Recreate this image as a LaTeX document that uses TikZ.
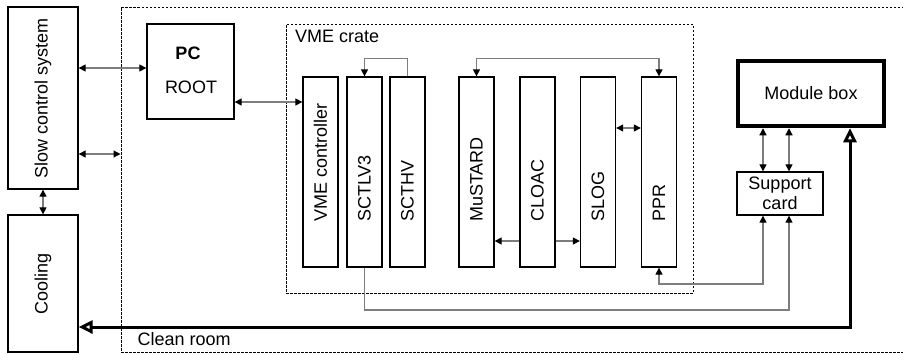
\documentclass[tikz,border=0pt]{standalone}
\usepackage{fontspec}
\setmainfont{Liberation Sans}
\usepackage{tikz}
\usetikzlibrary{positioning,arrows.meta,calc}
\definecolor{LinkGrey}{RGB}{125,125,125}

\begin{document}
\begin{tikzpicture}[
    x=1pt, y=-1pt,
    font=\fontsize{18}{21}\selectfont,
    box/.style={rectangle,draw,line width=1.3pt,inner sep=0pt},
    card/.style={box,minimum width=35pt,minimum height=190pt},
    area/.style={rectangle,draw,line width=1pt,dash pattern=on 2.5pt off 1.5pt,inner sep=0pt},
    cardtext/.style={rotate=90,anchor=west,inner sep=0pt},
    link/.style={draw=LinkGrey,line width=1.2pt,
        {Triangle[black,length=7pt,width=7pt]}-{Triangle[black,length=7pt,width=7pt]}},
    onelink/.style={draw=LinkGrey,line width=1.2pt,-{Triangle[black,length=7pt,width=7pt]}},
    cool/.style={draw,line width=3pt,
        {Triangle[open,length=14pt,width=13pt,line width=3pt]}-{Triangle[open,length=14pt,width=13pt,line width=3pt]}}
]
\path[use as bounding box,clip] (0,0) rectangle (903,354);

\node[area,minimum width=799pt,minimum height=345pt] (clean) at (520.5,179.5) {};
\node[anchor=west] (cleanlbl) at (134,339) {Clean room};
\node[area,minimum width=407pt,minimum height=269pt] (crate) at (489.5,158.5) {};
\node[anchor=base west,inner sep=0pt] (cratelbl) at (295,42) {VME crate};

\node[box,minimum width=70pt,minimum height=182pt] (slow) at (43,98) {};
\node[rotate=90] at (slow) {Slow control system};
\node[box,minimum width=70pt,minimum height=137pt] (cooling) at (43,283.5) {};
\node[rotate=90] at (cooling) {Cooling};

\node[box,minimum width=87pt,minimum height=95pt] (pc) at (190.5,71.5) {};
\node[font=\fontsize{18}{21}\selectfont\bfseries] at (188,53) {PC};
\node at (191,87) {ROOT};

\node[card] (vmec) at (320.5,172) {};
\node[card] (sctlv) at (364.5,172) {};
\node[card] (scthv) at (407.5,172) {};
\node[card] (mustard) at (476.5,172) {};
\node[card] (cloac) at (537.5,172) {};
\node[card] (slog) at (598,172) {};
\node[card] (ppr) at (659,172) {};

\node[cardtext] at (vmec.center |- 0,222) {VME controller};
\node[cardtext] at (sctlv.center |- 0,222) {SCTLV3};
\node[cardtext] at (scthv.center |- 0,222) {SCTHV};
\node[cardtext] at (mustard.center |- 0,222) {MuSTARD};
\node[cardtext] at (cloac.center |- 0,222) {CLOAC};
\node[cardtext] at (slog.center |- 0,222) {SLOG};
\node[cardtext] at (ppr.center |- 0,222) {PPR};

\node[box,line width=4.5pt,minimum width=146pt,minimum height=65pt] (module) at (811,93.5) {Module box};
\node[box,minimum width=86pt,minimum height=43pt,align=center,font=\fontsize{18}{20}\selectfont] (support) at (780,193.5) {Support\\card};

\coordinate (supl) at ([xshift=-17pt]support.south);
\coordinate (supr) at ([xshift=9pt]support.south);

\draw[link] (slow.east |- 0,68) -- (pc.west |- 0,68);
\draw[link] (slow.east |- 0,154) -- (clean.west |- 0,154);
\draw[link] (slow.south) -- (cooling.north);
\draw[link] (pc.east |- 0,102) -- (vmec.west |- 0,102);

\draw[onelink] (scthv.north) -- ++(0,-18) -| (sctlv.north);
\draw[link] (ppr.north) -- ++(0,-18) -| (mustard.north);
\draw[onelink] (cloac.west |- 0,241) -- (mustard.east |- 0,241);
\draw[onelink] (cloac.east |- 0,241) -- (slog.west |- 0,241);
\draw[link] (slog.east |- 0,128) -- (ppr.west |- 0,128);

\draw[link] (supl |- support.north) -- (supl |- module.south);
\draw[link] (supr |- support.north) -- (supr |- module.south);
\draw[onelink] (sctlv.south) -- (sctlv.south |- 0,310) -| (supr);
\draw[link] (ppr.south) -- (ppr.south |- 0,284) -| (supl);

\draw[cool] ([xshift=39pt]module.south) -- ([xshift=39pt]module.south |- 0,327) -- (cooling.east |- 0,327);
\end{tikzpicture}
\end{document}
